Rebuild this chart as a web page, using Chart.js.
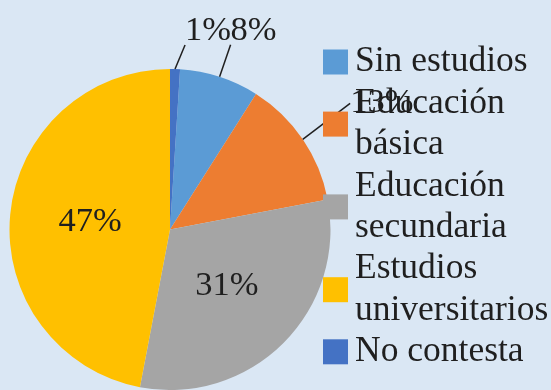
<!DOCTYPE html>
<html>
<head>
<meta charset="utf-8">
<script src="https://cdn.jsdelivr.net/npm/chart.js@4.4.1/dist/chart.umd.min.js"></script>
<style>
  html, body { margin: 0; padding: 0; background: #dae7f4; }
  canvas { display: block; }
</style>
</head>
<body>
<canvas id="chart" width="551" height="390"></canvas>
<script>
// legend entries, one array per entry (one string per line)
const labels = [
  ['Sin estudios'],
  ['Educación', 'básica'],
  ['Educación', 'secundaria'],
  ['Estudios', 'universitarios'],
  ['No contesta']
];
const values = [8, 13, 31, 47, 1];
const colors = ['#5b9bd5', '#ed7d31', '#a5a5a5', '#ffc000', '#4472c4'];

const TEXT = '#1f1f1f';
const SERIF = '"Liberation Serif", "Times New Roman", serif';

// percentage labels: big slices get theirs inside, small ones outside with a leader line
const pctLabels = {
  id: 'pctLabels',
  afterDatasetsDraw(chart, args, opts) {
    const ctx = chart.ctx;
    const arcs = chart.getDatasetMeta(0).data;
    ctx.save();
    ctx.font = opts.size + 'px ' + SERIF;
    ctx.fillStyle = TEXT;
    ctx.strokeStyle = TEXT;
    ctx.lineWidth = 1.5;
    ctx.textAlign = 'center';
    ctx.textBaseline = 'middle';
    arcs.forEach((arc, i) => {
      const p = arc.getProps(['x', 'y', 'startAngle', 'endAngle', 'outerRadius'], true);
      const mid = (p.startAngle + p.endAngle) / 2;
      const text = values[i] + '%';
      const shift = opts.outside[i];
      if (!shift) {
        const d = p.outerRadius * opts.inside;
        ctx.fillText(text, p.x + Math.cos(mid) * d, p.y + Math.sin(mid) * d);
        return;
      }
      const ax = p.x + Math.cos(mid) * p.outerRadius;
      const ay = p.y + Math.sin(mid) * p.outerRadius;
      const lx = ax + shift[0], ly = ay + shift[1];
      const hw = ctx.measureText(text).width / 2, hh = 14;
      const outX = Math.max(lx - hw - ax, ax - lx - hw, 0);
      const outY = Math.max(ly - hh - ay, ay - ly - hh, 0);
      let ex, ey;
      if (outX > outY) {
        ex = ax < lx ? lx - hw : lx + hw;
        ey = ly;
      } else {
        ex = Math.min(Math.max(ax, lx - hw), lx + hw);
        ey = ay > ly ? ly + hh : ly - hh;
      }
      ctx.beginPath();
      ctx.moveTo(ax, ay);
      ctx.lineTo(ex, ey);
      ctx.stroke();
      ctx.fillText(text, lx, ly);
    });
    ctx.restore();
  }
};

// legend on the right, square marker centred on each entry's lines
const sideLegend = {
  id: 'sideLegend',
  afterDraw(chart, args, opts) {
    const ctx = chart.ctx;
    ctx.save();
    ctx.font = opts.size + 'px ' + SERIF;
    ctx.textAlign = 'left';
    ctx.textBaseline = 'middle';
    let line = 0;
    chart.data.labels.forEach((lab, i) => {
      const top = opts.top + line * opts.lineHeight;
      const mid = top + (lab.length - 1) * opts.lineHeight / 2;
      ctx.fillStyle = chart.data.datasets[0].backgroundColor[i];
      ctx.fillRect(opts.x, mid - opts.box / 2, opts.box, opts.box);
      ctx.fillStyle = TEXT;
      lab.forEach((t, k) => ctx.fillText(t, opts.x + opts.box + opts.gap, top + k * opts.lineHeight));
      line += lab.length;
    });
    ctx.restore();
  }
};

new Chart(document.getElementById('chart'), {
  type: 'pie',
  data: {
    labels: labels,
    datasets: [{
      data: values,
      backgroundColor: colors,
      borderWidth: 0
    }]
  },
  options: {
    responsive: false,
    animation: false,
    devicePixelRatio: 1,
    rotation: 3.6,
    layout: { padding: { left: 9, top: 69, right: 220, bottom: 0 } },
    plugins: {
      legend: { display: false },
      tooltip: { enabled: false },
      pctLabels: {
        size: 34.5,
        inside: 0.5,
        outside: { 0: [34, -46], 1: [79, -36], 4: [33, -38] }
      },
      sideLegend: { size: 35.5, x: 323, top: 62, lineHeight: 41.4, box: 25, gap: 7 }
    }
  },
  plugins: [pctLabels, sideLegend]
});
</script>
</body>
</html>
